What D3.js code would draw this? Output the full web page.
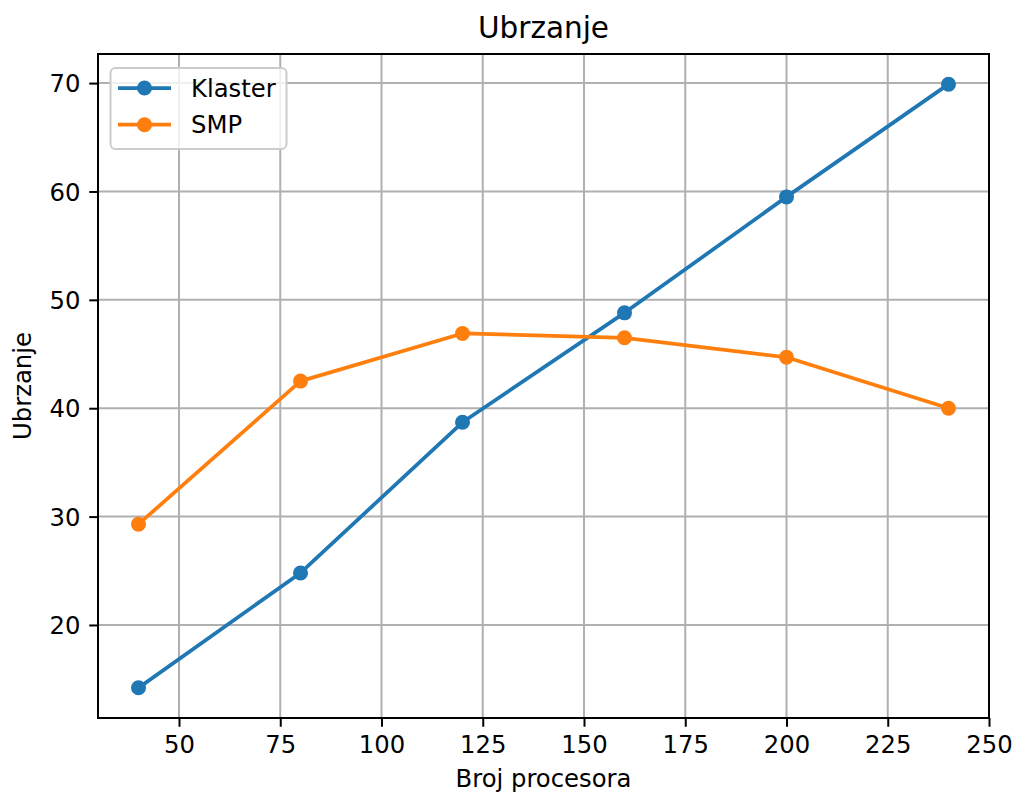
<!DOCTYPE html>
<html><head><meta charset="utf-8">
<script src="https://cdn.jsdelivr.net/npm/d3@7"></script>
<style>
html,body{margin:0;padding:0;background:#fff;}
svg text{font-family:"DejaVu Sans",sans-serif;fill:#000;}
</style></head>
<body>
<svg id="chart" width="1015" height="796"></svg>
<script>
const procs = [40, 80, 120, 160, 200, 240];
const klaster = [14.2, 24.8, 38.7, 48.8, 59.5, 69.9];
const smp = [29.3, 42.5, 46.9, 46.5, 44.7, 40.0];
const seriesNames = ["Klaster", "SMP"];
const seriesColors = ["#1f77b4", "#ff7f0e"];
const xTicks = [50, 75, 100, 125, 150, 175, 200, 225, 250];
const yTicks = [20, 30, 40, 50, 60, 70];
const title = "Ubrzanje";
const xLabel = "Broj procesora";
const yLabel = "Ubrzanje";

const svg = d3.select("#chart");
const L = 98, R = 989, T = 54, B = 718;
const FS = 24.3;

const xmin = d3.min(procs), xmax = d3.max(procs);
const xpad = (xmax - xmin) * 0.05;
const allY = klaster.concat(smp);
const ymin = d3.min(allY), ymax = d3.max(allY);
const ypad = (ymax - ymin) * 0.05;

const x = d3.scaleLinear().domain([xmin - xpad, xmax + xpad]).range([L, R]);
const y = d3.scaleLinear().domain([ymin - ypad, ymax + ypad]).range([B, T]);

// grid
const grid = svg.append("g");
xTicks.forEach(t => grid.append("line").attr("x1", x(t)).attr("x2", x(t)).attr("y1", T).attr("y2", B)
  .attr("stroke", "#b0b0b0").attr("stroke-width", 2));
yTicks.forEach(t => grid.append("line").attr("x1", L).attr("x2", R).attr("y1", y(t)).attr("y2", y(t))
  .attr("stroke", "#b0b0b0").attr("stroke-width", 2));

// series
const data = [klaster, smp];
const line = d3.line().x((d, i) => x(procs[i])).y(d => y(d));
data.forEach((vals, si) => {
  const g = svg.append("g");
  g.append("path").datum(vals).attr("d", line).attr("fill", "none")
    .attr("stroke", seriesColors[si]).attr("stroke-width", 3.75).attr("stroke-linejoin", "round").attr("stroke-linecap", "square");
  g.selectAll("circle").data(vals).enter().append("circle")
    .attr("cx", (d, i) => x(procs[i])).attr("cy", d => y(d)).attr("r", 7.5)
    .attr("fill", seriesColors[si]);
});

// axes
const xAxis = d3.axisBottom(x).tickValues(xTicks).tickSize(8.75).tickPadding(8.75);
const yAxis = d3.axisLeft(y).tickValues(yTicks).tickSize(8.75).tickPadding(8.75);
const gx = svg.append("g").attr("transform", `translate(0,${B})`).call(xAxis);
const gy = svg.append("g").attr("transform", `translate(${L},0)`).call(yAxis);
[gx, gy].forEach(g => {
  g.select(".domain").remove();
  g.selectAll(".tick line").attr("stroke", "#000").attr("stroke-width", 2);
  g.selectAll(".tick text").attr("font-size", FS).attr("font-family", "DejaVu Sans");
});
gx.selectAll(".tick text").attr("dy", "0.73em");
gy.selectAll(".tick text").attr("dy", "0.36em");

// spines
svg.append("rect").attr("x", L).attr("y", T).attr("width", R - L).attr("height", B - T)
  .attr("fill", "none").attr("stroke", "#000").attr("stroke-width", 2);

// titles
svg.append("text").attr("x", (L + R) / 2).attr("y", 38).attr("text-anchor", "middle")
  .attr("font-size", 29.5).text(title);
svg.append("text").attr("x", (L + R) / 2).attr("y", 787).attr("text-anchor", "middle")
  .attr("font-size", FS).text(xLabel);
svg.append("text").attr("transform", `translate(31,${(T + B) / 2}) rotate(-90)`).attr("text-anchor", "middle")
  .attr("font-size", FS).text(yLabel);

// legend
const lg = svg.append("g");
lg.append("rect").attr("x", 110.5).attr("y", 68).attr("width", 176).attr("height", 81).attr("rx", 5)
  .attr("fill", "#fff").attr("fill-opacity", 0.8).attr("stroke", "#cccccc").attr("stroke-width", 2);
seriesNames.forEach((name, i) => {
  const ry = 88 + i * 36.7;
  lg.append("line").attr("x1", 118).attr("x2", 171).attr("y1", ry).attr("y2", ry)
    .attr("stroke", seriesColors[i]).attr("stroke-width", 3.75);
  lg.append("circle").attr("cx", 144.5).attr("cy", ry).attr("r", 7.5).attr("fill", seriesColors[i]);
  lg.append("text").attr("x", 191).attr("y", ry).attr("dy", "0.36em").attr("font-size", FS).text(name);
});
</script>
</body></html>
